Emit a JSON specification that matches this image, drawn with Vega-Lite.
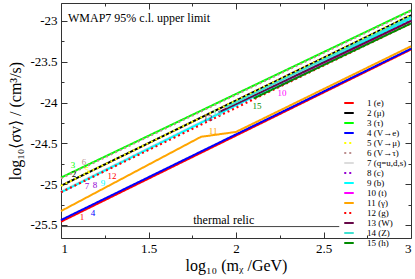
{
  "$schema": "https://vega.github.io/schema/vega-lite/v6.json",
  "width": 350,
  "height": 235,
  "autosize": "none",
  "padding": {"left": 61, "top": 3, "right": 4, "bottom": 41},
  "background": "white",
  "config": {
    "view": {"stroke": "#333", "strokeWidth": 1},
    "font": "Liberation Serif",
    "axis": {
      "domain": false, "grid": false, "tickColor": "#333", "tickWidth": 1,
      "labelFont": "Liberation Serif", "labelFontSize": 13, "labelColor": "#000",
      "titleFont": "Liberation Serif", "titleFontSize": 16, "titleFontWeight": "normal", "titleColor": "#000"
    },
    "legend": {
      "orient": "none", "legendX": 282, "legendY": 96, "padding": 0,
      "symbolType": "stroke", "symbolSize": 90, "symbolStrokeWidth": 2,
      "labelFont": "Liberation Serif", "labelFontSize": 9, "labelColor": "#000",
      "labelOffset": 12, "rowPadding": 0, "clipHeight": 8.2
    }
  },
  "datasets": {
    "lines": [
      {"s": "1 (e)", "x": 1, "v": -25.46}, {"s": "1 (e)", "x": 3, "v": -23.35},
      {"s": "2 (μ)", "x": 1, "v": -25.02}, {"s": "2 (μ)", "x": 3, "v": -22.93},
      {"s": "3 (τ)", "x": 1, "v": -24.92}, {"s": "3 (τ)", "x": 3, "v": -22.87},
      {"s": "4 (V→e)", "x": 1, "v": -25.44}, {"s": "4 (V→e)", "x": 3, "v": -23.34},
      {"s": "5 (V→μ)", "x": 1, "v": -25.02}, {"s": "5 (V→μ)", "x": 3, "v": -22.93},
      {"s": "6 (V→τ)", "x": 1, "v": -24.93}, {"s": "6 (V→τ)", "x": 3, "v": -22.88},
      {"s": "7 (q=u,d,s)", "x": 1, "v": -25.09}, {"s": "7 (q=u,d,s)", "x": 3, "v": -22.96},
      {"s": "8 (c)", "x": 1, "v": -25.10}, {"s": "8 (c)", "x": 3, "v": -22.98},
      {"s": "9 (b)", "x": 1, "v": -25.10}, {"s": "9 (b)", "x": 3, "v": -22.97},
      {"s": "10 (t)", "x": 2.23, "v": -23.82}, {"s": "10 (t)", "x": 3, "v": -23.00},
      {"s": "11 (γ)", "x": 1, "v": -25.33}, {"s": "11 (γ)", "x": 1.8, "v": -24.42}, {"s": "11 (γ)", "x": 2.0, "v": -24.36}, {"s": "11 (γ)", "x": 3, "v": -23.31},
      {"s": "12 (g)", "x": 1, "v": -25.10}, {"s": "12 (g)", "x": 3, "v": -23.03},
      {"s": "13 (W)", "x": 1.9, "v": -24.12}, {"s": "13 (W)", "x": 3, "v": -23.00},
      {"s": "14 (Z)", "x": 1.94, "v": -24.06}, {"s": "14 (Z)", "x": 3, "v": -22.95},
      {"s": "15 (h)", "x": 2.10, "v": -23.95}, {"s": "15 (h)", "x": 3, "v": -23.03}
    ],
    "labels": [
      {"s": "3 (τ)", "t": "3", "x": 1.069, "v": -24.765},
      {"s": "6 (V→τ)", "t": "6", "x": 1.131, "v": -24.728},
      {"s": "2 (μ)", "t": "2", "x": 1.074, "v": -24.87},
      {"s": "5 (V→μ)", "t": "5", "x": 1.149, "v": -24.826},
      {"s": "8 (c)", "t": "7", "x": 1.149, "v": -25.022},
      {"s": "8 (c)", "t": "8", "x": 1.194, "v": -25.010},
      {"s": "9 (b)", "t": "9", "x": 1.24, "v": -24.985},
      {"s": "12 (g)", "t": "12", "x": 1.291, "v": -24.90},
      {"s": "1 (e)", "t": "1", "x": 1.12, "v": -25.40},
      {"s": "4 (V→e)", "t": "4", "x": 1.183, "v": -25.353},
      {"s": "11 (γ)", "t": "11", "x": 1.869, "v": -24.348},
      {"s": "13 (W)", "t": "13", "x": 1.84, "v": -24.19},
      {"s": "14 (Z)", "t": "14", "x": 1.891, "v": -24.127},
      {"s": "15 (h)", "t": "15", "x": 2.12, "v": -24.04},
      {"s": "10 (t)", "t": "10", "x": 2.263, "v": -23.88}
    ]
  },
  "layer": [
    {
      "data": {"name": "lines"},
      "mark": {"type": "line", "strokeWidth": 2},
      "encoding": {
        "x": {"field": "x", "type": "quantitative", "scale": {"domain": [1, 3], "nice": false, "zero": false},
              "axis": {"orient": "bottom", "values": [1, 1.5, 2, 2.5, 3], "tickSize": -6, "labelPadding": 10, "labelExpr": "'' + datum.value", "title": "log₁₀ (mᵪ /GeV)", "titlePadding": 2}},
        "y": {"field": "v", "type": "quantitative", "scale": {"domain": [-25.66, -22.78], "nice": false, "zero": false},
              "axis": {"orient": "left", "values": [-25.5, -25, -24.5, -24, -23.5, -23], "tickSize": -6, "labelPadding": 10, "labelExpr": "'' + datum.value", "title": "log₁₀⟨σv⟩ / (cm³/s)", "titlePadding": 6}},
        "color": {"field": "s", "type": "nominal", "title": null,
                  "scale": {"domain": ["1 (e)", "2 (μ)", "3 (τ)", "4 (V→e)", "5 (V→μ)", "6 (V→τ)", "7 (q=u,d,s)", "8 (c)", "9 (b)", "10 (t)", "11 (γ)", "12 (g)", "13 (W)", "14 (Z)", "15 (h)"],
                            "range": ["#ff0000", "#000000", "#00ff00", "#0000ff", "#ffff00", "#bc8f8f", "#dcdcdc", "#9400d3", "#00ffff", "#ff00ff", "#ffa500", "#ff0000", "#670748", "#40e0d0", "#008b00"]}},
        "strokeDash": {"field": "s", "type": "nominal", "title": null,
                  "scale": {"domain": ["1 (e)", "2 (μ)", "3 (τ)", "4 (V→e)", "5 (V→μ)", "6 (V→τ)", "7 (q=u,d,s)", "8 (c)", "9 (b)", "10 (t)", "11 (γ)", "12 (g)", "13 (W)", "14 (Z)", "15 (h)"],
                            "range": [[1, 0], [1, 0], [1, 0], [1, 0], [2, 3], [2, 3], [1, 0], [2, 3], [1, 0], [1, 0], [1, 0], [2, 3], [1, 0], [1, 0], [1, 0]]}}
      }
    },
    {
      "data": {"name": "lines"},
      "mark": {"type": "point", "opacity": 0},
      "encoding": {
        "x": {"field": "x", "type": "quantitative", "axis": {"orient": "bottom", "values": [1.25, 1.75, 2.25, 2.75], "tickSize": -3, "labels": false, "title": null}},
        "y": {"field": "v", "type": "quantitative", "axis": {"orient": "left", "values": [-25.25, -24.75, -24.25, -23.75, -23.25], "tickSize": -3, "labels": false, "title": null}}
      }
    },
    {
      "data": {"name": "lines"},
      "mark": {"type": "point", "opacity": 0},
      "encoding": {
        "x": {"field": "x", "type": "quantitative", "axis": {"orient": "top", "values": [1, 1.5, 2, 2.5, 3], "tickSize": -6, "labels": false, "title": null}},
        "y": {"field": "v", "type": "quantitative", "axis": {"orient": "right", "values": [-25.5, -25, -24.5, -24, -23.5, -23], "tickSize": -6, "labels": false, "title": null}}
      }
    },
    {
      "data": {"name": "lines"},
      "mark": {"type": "point", "opacity": 0},
      "encoding": {
        "x": {"field": "x", "type": "quantitative", "axis": {"orient": "top", "values": [1.25, 1.75, 2.25, 2.75], "tickSize": -3, "labels": false, "title": null}},
        "y": {"field": "v", "type": "quantitative", "axis": {"orient": "right", "values": [-25.25, -24.75, -24.25, -23.75, -23.25], "tickSize": -3, "labels": false, "title": null}}
      }
    },
    {
      "data": {"values": [{}]},
      "mark": {"type": "rule", "color": "#444", "strokeWidth": 1},
      "encoding": {"x": {"datum": 1, "type": "quantitative", "axis": null}, "x2": {"datum": 2.59}, "y": {"datum": -25.52, "type": "quantitative", "axis": null}}
    },
    {
      "data": {"values": [{}]},
      "mark": {"type": "text", "text": "thermal relic", "fontSize": 12, "baseline": "alphabetic", "align": "center", "dy": -3, "color": "#000"},
      "encoding": {"x": {"datum": 1.93, "type": "quantitative", "axis": null}, "y": {"datum": -25.52, "type": "quantitative", "axis": null}}
    },
    {
      "data": {"values": [{}]},
      "mark": {"type": "text", "text": "WMAP7 95% c.l. upper limit", "fontSize": 12, "baseline": "middle", "align": "left", "color": "#000"},
      "encoding": {"x": {"datum": 1.04, "type": "quantitative", "axis": null}, "y": {"datum": -22.96, "type": "quantitative", "axis": null}}
    },
    {
      "data": {"name": "labels"},
      "mark": {"type": "text", "fontSize": 9, "baseline": "middle", "align": "center"},
      "encoding": {
        "x": {"field": "x", "type": "quantitative", "axis": null},
        "y": {"field": "v", "type": "quantitative", "axis": null},
        "text": {"field": "t"},
        "color": {"field": "s", "type": "nominal", "legend": null}
      }
    }
  ],
  "resolve": {"axis": {"x": "independent", "y": "independent"}, "legend": {"color": "independent", "strokeDash": "independent"}}
}
